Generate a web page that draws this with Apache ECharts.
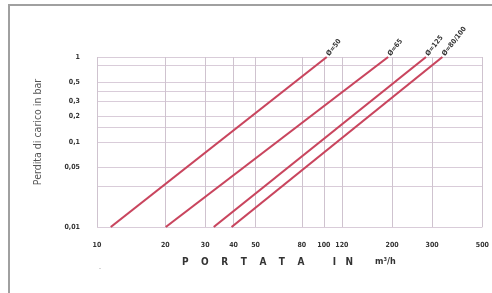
<!DOCTYPE html>
<html><head><meta charset="utf-8">
<script src="https://cdn.jsdelivr.net/npm/echarts@6/dist/echarts.min.js"></script>
<style>html,body{margin:0;padding:0;background:#fff}#c{width:492px;height:293px}</style>
</head><body><div id="c"></div>
<script>
// Data
const seriesNames = ['Ø=50', 'Ø=65', 'Ø=125', 'Ø=80/100'];
const flowStart = [11.5, 20.1, 32.7, 39.2];   // m³/h at 0.01 bar
const flowEnd = [103, 192, 282, 333];         // m³/h at 1 bar
const lossStart = [0.01, 0.01, 0.01, 0.01];
const lossEnd = [1, 1, 1, 1];
const xTicks = [10, 20, 30, 40, 50, 80, 100, 120, 200, 300, 500];
const yGridLines = [0.01, 0.03, 0.05, 0.1, 0.15, 0.2, 0.3, 0.4, 0.5, 0.8, 1];
const yLabels = [0.01, 0.05, 0.1, 0.2, 0.3, 0.5, 1];

const FONT = "'DejaVu Sans Condensed', 'Liberation Sans Narrow', 'Roboto Condensed', sans-serif";
const chart = echarts.init(document.getElementById('c'));
const series = seriesNames.map((name, i) => ({
  name, type: 'line', symbol: 'circle', symbolSize: 1, silent: true, clip: false,
  itemStyle: { color: 'rgba(0,0,0,0)' },
  lineStyle: { color: '#c9455e', width: 2.2 },
  data: [
    [flowStart[i], lossStart[i]],
    { value: [flowEnd[i], lossEnd[i]],
      label: { show: true, formatter: name, rotate: 52, position: 'right', align: 'left', verticalAlign: 'middle',
        distance: 3, offset: [0, -3],
        color: '#333', fontSize: 7, fontWeight: 'bold', fontFamily: FONT } }
  ]
}));
chart.setOption({
  animation: false,
  backgroundColor: '#fff',
  grid: { left: 97, right: 6, top: 57, bottom: 66 },
  graphic: [
    { type: 'rect', shape: { x: 9, y: 5, width: 500, height: 300 }, style: { fill: 'none', stroke: '#a0a0a0', lineWidth: 2 } },
    { type: 'text', x: 100, y: 268, style: { text: '-', fill: '#999', fontSize: 6, align: 'center', verticalAlign: 'middle' } },
    { type: 'text', x: 38, y: 132, rotation: Math.PI / 2,
      style: { text: 'Perdita di carico in bar', fill: '#555', fontSize: 10.5, fontFamily: FONT, align: 'center', verticalAlign: 'middle' } },
    { type: 'text', x: 182, y: 262,
      style: { text: 'P    O    R    T    A    T    A         I   N', fill: '#333', fontSize: 10, fontWeight: 'bold', fontFamily: FONT, align: 'left', verticalAlign: 'middle' } },
    { type: 'text', x: 375, y: 262,
      style: { text: 'm³/h', fill: '#333', fontSize: 9, fontWeight: 'bold', fontFamily: FONT, align: 'left', verticalAlign: 'middle' } }
  ],
  xAxis: {
    type: 'log', min: 10, max: 500, logBase: 10,
    axisLine: { show: false },
    axisTick: { show: false, customValues: xTicks },
    axisLabel: { customValues: xTicks, color: '#333', fontSize: 7, fontWeight: 'bold', fontFamily: FONT, margin: 15, showMinLabel: true, showMaxLabel: true },
    splitLine: { show: true, lineStyle: { color: '#cfc3cf', width: 1 } }
  },
  yAxis: {
    type: 'log', min: 0.01, max: 1, logBase: 10,
    axisLine: { show: false },
    axisTick: { show: false, customValues: yGridLines },
    axisLabel: { customValues: yLabels, color: '#333', fontSize: 7, fontWeight: 'bold', fontFamily: FONT, margin: 17,
      formatter: v => String(+v.toFixed(2)).replace('.', ',') },
    splitLine: { show: true, lineStyle: { color: '#d9ccd9', width: 1 } }
  },
  series
});
</script></body></html>
